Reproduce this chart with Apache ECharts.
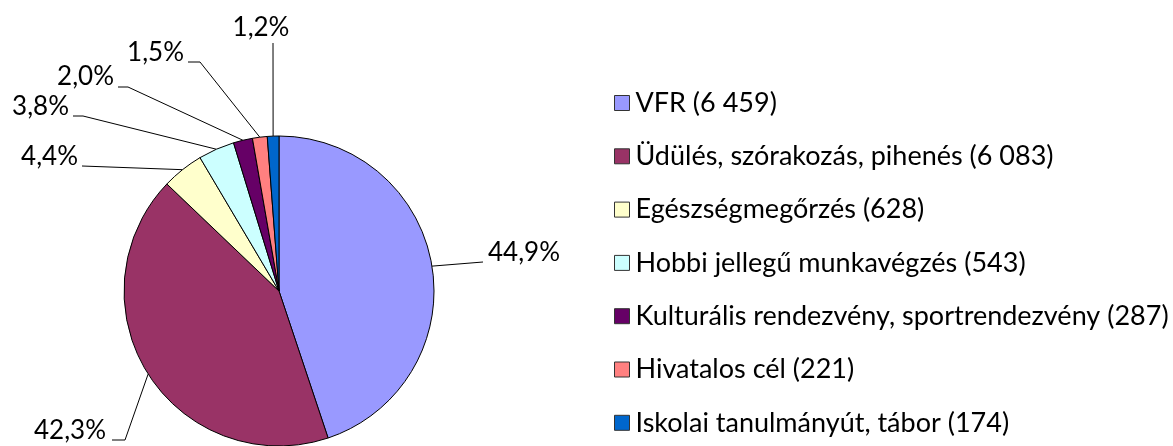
<!DOCTYPE html>
<html>
<head>
<meta charset="utf-8">
<script src="https://cdn.jsdelivr.net/npm/echarts@6/dist/echarts.min.js"></script>
<style>
  html, body { margin: 0; padding: 0; background: #fff; }
  #chart { width: 1173px; height: 446px; }
</style>
</head>
<body>
<div id="chart"></div>
<script>
// utazási célok (darab)
var categories = [
  'VFR',
  'Üdülés, szórakozás, pihenés',
  'Egészségmegőrzés',
  'Hobbi jellegű munkavégzés',
  'Kulturális rendezvény, sportrendezvény',
  'Hivatalos cél',
  'Iskolai tanulmányút, tábor'
]
var values = [6459, 6083, 628, 543, 287, 221, 174]
var valueLabels = ['6 459', '6 083', '628', '543', '287', '221', '174']
var colors = ['#9999FF', '#993366', '#FFFFCC', '#CCFFFF', '#660066', '#FF8080', '#0066CC']

var FONT = 'Lato'

// hova kerül a felirat (excel-szerű elhelyezés) - [x, y, align, könyök pontok]
var labelSpots = [
  { x: 488, y: 253, align: 'left',   bend: [[483, 262]] },
  { x: 106, y: 431, align: 'right',  bend: [[125, 440], [112, 440]] },
  { x: 78,  y: 157, align: 'right',  bend: [[82, 166]] },
  { x: 69,  y: 107, align: 'right',  bend: [[83, 116], [73, 116]] },
  { x: 114, y: 77,  align: 'right',  bend: [[128, 87], [118, 87]] },
  { x: 184, y: 53,  align: 'right',  bend: [[200, 62], [188, 62]] },
  { x: 261, y: 28,  align: 'center', bend: [[273, 43]] }
]

var total = values.reduce(function (a, b) { return a + b }, 0)

var chart = echarts.init(document.getElementById('chart'))
chart.setOption({
  backgroundColor: '#fff',
  animation: false,
  color: colors,
  legend: {
    orient: 'vertical',
    left: 609,
    top: 83,
    itemWidth: 15,
    itemHeight: 15,
    itemGap: 23.3,
    icon: 'rect',
    itemStyle: { borderColor: '#333', borderWidth: 1 },
    textStyle: {
      fontFamily: FONT,
      fontSize: 27,
      lineHeight: 30,
      color: '#000',
      padding: [0, 0, 0, 1]
    },
    formatter: function (name) {
      var i = categories.indexOf(name)
      return name + ' (' + valueLabels[i] + ')'
    },
    data: categories
  },
  series: [{
    type: 'pie',
    center: [279, 291],
    radius: 155,
    startAngle: 90,
    clockwise: true,
    avoidLabelOverlap: false,
    itemStyle: { borderColor: '#000', borderWidth: 1 },
    label: {
      show: true,
      position: 'outside',
      fontFamily: FONT,
      fontSize: 26,
      color: '#000',
      formatter: function (p) {
        return (p.value / total * 100).toFixed(1).replace('.', ',') + '%'
      }
    },
    labelLine: {
      show: true,
      length: 10,
      length2: 10,
      smooth: false,
      lineStyle: { color: '#000', width: 1 }
    },
    emphasis: { disabled: true },
    labelLayout: function (params) {
      var spot = labelSpots[params.dataIndex]
      var start = params.labelLinePoints ? params.labelLinePoints[0] : null
      var out = {
        x: spot.x,
        y: spot.y,
        align: spot.align,
        verticalAlign: 'middle'
      }
      if (start) {
        var pts = [start].concat(spot.bend)
        if (pts.length < 3) pts.push(spot.bend[spot.bend.length - 1])
        out.labelLinePoints = pts
      }
      return out
    },
    data: categories.map(function (name, i) {
      return { name: name, value: values[i] }
    })
  }]
})
</script>
</body>
</html>
